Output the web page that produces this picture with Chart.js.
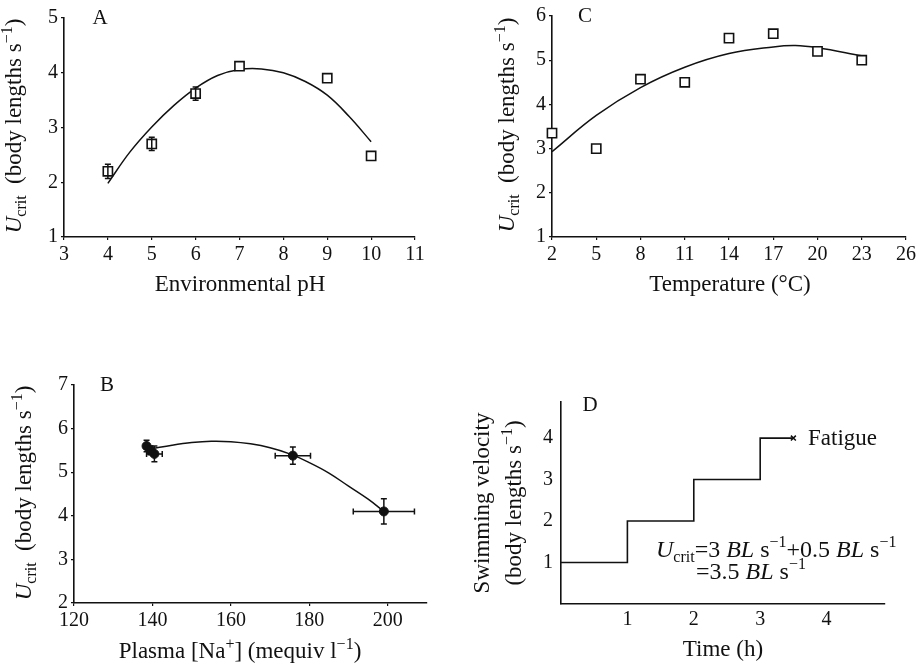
<!DOCTYPE html>
<html>
<head>
<meta charset="utf-8">
<script src="https://cdn.jsdelivr.net/npm/chart.js@4"></script>
<style>
body { margin: 0; background: #fff; width: 921px; height: 666px; position: relative; overflow: hidden; }
canvas { position: absolute; }
</style>
</head>
<body>
<canvas id="chartA" width="440" height="300" style="left:0;top:0"></canvas>
<canvas id="chartC" width="461" height="300" style="left:460px;top:0"></canvas>
<canvas id="chartB" width="440" height="326" style="left:0;top:340px"></canvas>
<canvas id="chartD" width="461" height="326" style="left:460px;top:340px"></canvas>
<script>
// Panel A: environmental pH
const phValues = [4, 5, 6, 7, 9, 10];
const phUcrit = [2.2, 2.7, 3.62, 4.12, 3.9, 2.48];
const phErr = [0.13, 0.12, 0.12, 0, 0, 0];
const phFitX = [4, 4.5, 5, 5.5, 6, 6.5, 7, 7.5, 8, 8.5, 9, 9.5, 10];
const phFitY = [1.98, 2.55, 3.01, 3.4, 3.72, 3.95, 4.06, 4.07, 4.0, 3.84, 3.59, 3.2, 2.74];
const phTicksX = [3, 4, 5, 6, 7, 8, 9, 10, 11];
const phTicksY = [1, 2, 3, 4, 5];

// Panel C: temperature
const tempValues = [2, 5, 8, 11, 14, 17, 20, 23];
const tempUcrit = [3.35, 3.0, 4.57, 4.5, 5.5, 5.6, 5.2, 5.0];
const tempFitX = [2, 5, 8, 11, 14, 17, 18.5, 20, 23];
const tempFitY = [2.93, 3.75, 4.38, 4.84, 5.15, 5.3, 5.33, 5.28, 5.1];
const tempTicksX = [2, 5, 8, 11, 14, 17, 20, 23, 26];
const tempTicksY = [1, 2, 3, 4, 5, 6];

// Panel B: plasma sodium
const naValues = [138.5, 139.5, 140.5, 175.8, 199];
const naUcrit = [5.6, 5.5, 5.42, 5.38, 4.1];
const naErrY = [0.13, 0.1, 0.18, 0.2, 0.29];
const naErrX = [0, 0, 2, 4.5, 7.8];
const naFitX = [140, 145, 150, 155, 160, 165, 170, 175, 180, 185, 190, 195, 199];
const naFitY = [5.54, 5.62, 5.68, 5.71, 5.7, 5.65, 5.56, 5.42, 5.22, 4.98, 4.68, 4.38, 4.1];
const naTicksX = [120, 140, 160, 180, 200];
const naTicksY = [2, 3, 4, 5, 6, 7];

// Panel D: stepped velocity protocol
const stepTime = [0, 1, 2, 3, 3.5];
const stepVelocity = [1, 2, 3, 4, 4];
const fatigueTime = [3.5];
const fatigueVelocity = [4];
const timeTicks = [1, 2, 3, 4];
const velocityTicks = [1, 2, 3, 4];

const FONT = "'Liberation Serif', 'DejaVu Serif', serif";
const INK = '#111';
const TITLE = 23;

function pts(xs, ys) {
    return xs.map((x, i) => ({ x: x, y: ys[i] }));
}

// Texte avec indices/exposants dessiné sur le canvas
function drawRich(ctx, segs, x, y, size, align) {
    const fontFor = s => {
        const small = s[1] === 'sub' || s[1] === 'sup';
        return (s[1] === 'i' ? 'italic ' : '') + Math.round(small ? size * 0.68 : size) + 'px ' + FONT;
    };
    let w = 0;
    const widths = segs.map(s => { ctx.font = fontFor(s); const m = ctx.measureText(s[0]).width; w += m; return m; });
    let cx = align === 'center' ? x - w / 2 : x;
    ctx.textAlign = 'left';
    ctx.textBaseline = 'middle';
    segs.forEach((s, i) => {
        ctx.font = fontFor(s);
        const dy = s[1] === 'sub' ? size * 0.28 : s[1] === 'sup' ? -size * 0.33 : 0;
        ctx.fillText(s[0], cx, y + dy);
        cx += widths[i];
    });
}

function textPlugin(items) {
    return {
        id: 'texts',
        afterDraw(chart) {
            const ctx = chart.ctx;
            ctx.save();
            ctx.fillStyle = INK;
            items.forEach(it => {
                ctx.save();
                ctx.translate(it.x, it.y);
                if (it.rot) ctx.rotate(-Math.PI / 2);
                drawRich(ctx, it.segs, 0, 0, it.size || TITLE, it.align || 'center');
                ctx.restore();
            });
            ctx.restore();
        }
    };
}

function errorBarPlugin(xs, ys, ex, ey) {
    return {
        id: 'errorBars',
        afterDatasetsDraw(chart) {
            const { ctx, scales: { x, y } } = chart;
            ctx.save();
            ctx.strokeStyle = INK;
            ctx.lineWidth = 1.5;
            xs.forEach((xv, i) => {
                const px = x.getPixelForValue(xv);
                const py = y.getPixelForValue(ys[i]);
                ctx.beginPath();
                if (ey && ey[i]) {
                    const t = y.getPixelForValue(ys[i] + ey[i]);
                    const b = y.getPixelForValue(ys[i] - ey[i]);
                    ctx.moveTo(px, t); ctx.lineTo(px, b);
                    ctx.moveTo(px - 3, t); ctx.lineTo(px + 3, t);
                    ctx.moveTo(px - 3, b); ctx.lineTo(px + 3, b);
                }
                if (ex && ex[i]) {
                    const l = x.getPixelForValue(xs[i] - ex[i]);
                    const r = x.getPixelForValue(xs[i] + ex[i]);
                    ctx.moveTo(l, py); ctx.lineTo(r, py);
                    ctx.moveTo(l, py - 3); ctx.lineTo(l, py + 3);
                    ctx.moveTo(r, py - 3); ctx.lineTo(r, py + 3);
                }
                ctx.stroke();
            });
            ctx.restore();
        }
    };
}

function makeScales(c) {
    const tickFont = { family: FONT, size: 20 };
    return {
        x: {
            type: 'linear', min: c.xMin, max: c.xMax,
            afterFit: s => { s.height = c.xHeight; },
            afterBuildTicks: s => { s.ticks = c.xTicks.map(v => ({ value: v })); },
            ticks: { color: INK, font: tickFont, padding: c.noTicks ? 4 : 3, maxRotation: 0, autoSkip: false },
            grid: { drawOnChartArea: false, drawTicks: !c.noTicks, tickLength: 3, color: INK, lineWidth: 1.2 },
            border: { color: INK, width: 1.6 }
        },
        y: {
            type: 'linear', min: c.yMin, max: c.yMax,
            afterFit: s => { s.width = c.yWidth; },
            afterBuildTicks: s => { s.ticks = c.yTicks.map(v => ({ value: v })); },
            ticks: { color: INK, font: tickFont, padding: c.noTicks ? 8 : 3, autoSkip: false },
            grid: { drawOnChartArea: false, drawTicks: !c.noTicks, tickLength: 3, color: INK, lineWidth: 1.2 },
            border: { color: INK, width: 1.6 }
        }
    };
}

function baseOptions(c) {
    return {
        responsive: false,
        animation: false,
        layout: { padding: c.padding },
        plugins: { legend: { display: false }, tooltip: { enabled: false } },
        scales: makeScales(c)
    };
}

const ucritTitle = [['U', 'i'], ['crit', 'sub'], ['  (body lengths s', ''], ['\u22121', 'sup'], [')', '']];

// A
new Chart(document.getElementById('chartA'), {
    type: 'scatter',
    data: {
        datasets: [{
            data: pts(phValues, phUcrit), pointStyle: 'rect', pointRadius: 6.5,
            borderColor: INK, backgroundColor: '#fff', borderWidth: 1.6, clip: false, order: 0
        }, {
            type: 'line', data: pts(phFitX, phFitY), borderColor: INK, borderWidth: 1.5,
            pointRadius: 0, tension: 0.4, fill: false, order: 1
        }]
    },
    options: baseOptions({
        xMin: 3, xMax: 11, yMin: 1, yMax: 5, xTicks: phTicksX, yTicks: phTicksY,
        yWidth: 64, xHeight: 63, padding: { left: 0, top: 18, right: 25, bottom: 0 }
    }),
    plugins: [errorBarPlugin(phValues, phUcrit, null, phErr), textPlugin([
        { x: 15, y: 126, rot: true, segs: ucritTitle },
        { x: 240, y: 285, segs: [['Environmental pH', '']] },
        { x: 100, y: 18, segs: [['A', '']], size: 21 }
    ])]
});

// C
new Chart(document.getElementById('chartC'), {
    type: 'scatter',
    data: {
        datasets: [{
            data: pts(tempValues, tempUcrit), pointStyle: 'rect', pointRadius: 6.5,
            borderColor: INK, backgroundColor: '#fff', borderWidth: 1.6, clip: false, order: 0
        }, {
            type: 'line', data: pts(tempFitX, tempFitY), borderColor: INK, borderWidth: 1.5,
            pointRadius: 0, tension: 0.4, fill: false, order: 1
        }]
    },
    options: baseOptions({
        xMin: 2, xMax: 26, yMin: 1, yMax: 6, xTicks: tempTicksX, yTicks: tempTicksY,
        yWidth: 92, xHeight: 63, padding: { left: 0, top: 16, right: 15, bottom: 0 }
    }),
    plugins: [textPlugin([
        { x: 48, y: 125, rot: true, segs: ucritTitle },
        { x: 270, y: 285, segs: [['Temperature (\u00B0C)', '']] },
        { x: 125, y: 16, segs: [['C', '']], size: 21 }
    ])]
});

// B
new Chart(document.getElementById('chartB'), {
    type: 'scatter',
    data: {
        datasets: [{
            data: pts(naValues, naUcrit), pointStyle: 'circle', pointRadius: 4.5,
            borderColor: INK, backgroundColor: INK, borderWidth: 1, clip: false, order: 0
        }, {
            type: 'line', data: pts(naFitX, naFitY), borderColor: INK, borderWidth: 1.5,
            pointRadius: 0, tension: 0.4, fill: false, order: 1
        }]
    },
    options: baseOptions({
        xMin: 120, xMax: 210, yMin: 2, yMax: 7, xTicks: naTicksX, yTicks: naTicksY,
        yWidth: 74, xHeight: 63, padding: { left: 0, top: 45, right: 13, bottom: 0 }
    }),
    plugins: [errorBarPlugin(naValues, naUcrit, naErrX, naErrY), textPlugin([
        { x: 25, y: 153, rot: true, segs: ucritTitle },
        { x: 240, y: 312, segs: [['Plasma [Na', ''], ['+', 'sup'], ['] (mequiv l', ''], ['\u22121', 'sup'], [')', '']] },
        { x: 107, y: 45, segs: [['B', '']], size: 21 }
    ])]
});

// D
new Chart(document.getElementById('chartD'), {
    type: 'scatter',
    data: {
        datasets: [{
            type: 'line', data: pts(stepTime, stepVelocity), stepped: true, borderColor: INK,
            borderWidth: 1.6, pointRadius: 0, fill: false
        }, {
            data: pts(fatigueTime, fatigueVelocity), pointStyle: 'crossRot', pointRadius: 3.5,
            borderColor: INK, borderWidth: 1.5, clip: false
        }]
    },
    options: baseOptions({
        xMin: 0, xMax: 4.88, yMin: 0, yMax: 4.87, noTicks: true,
        xTicks: timeTicks, yTicks: velocityTicks,
        yWidth: 101, xHeight: 62, padding: { left: 0, top: 62, right: 36, bottom: 0 }
    }),
    plugins: [textPlugin([
        { x: 23, y: 163, rot: true, segs: [['Swimming velocity', '']] },
        { x: 55, y: 163, rot: true, segs: [['(body lengths s', ''], ['\u22121', 'sup'], [')', '']] },
        { x: 263, y: 310, segs: [['Time (h)', '']] },
        { x: 130, y: 65, segs: [['D', '']], size: 21 },
        { x: 348, y: 99, align: 'left', segs: [['Fatigue', '']] },
        { x: 196, y: 211, align: 'left', size: 24, segs: [['U', 'i'], ['crit', 'sub'], ['=3 ', ''], ['BL', 'i'], [' s', ''], ['\u22121', 'sup'], ['+0.5 ', ''], ['BL', 'i'], [' s', ''], ['\u22121', 'sup']] },
        { x: 236, y: 233, align: 'left', size: 24, segs: [['=3.5 ', ''], ['BL', 'i'], [' s', ''], ['\u22121', 'sup']] }
    ])]
});
</script>
</body>
</html>
